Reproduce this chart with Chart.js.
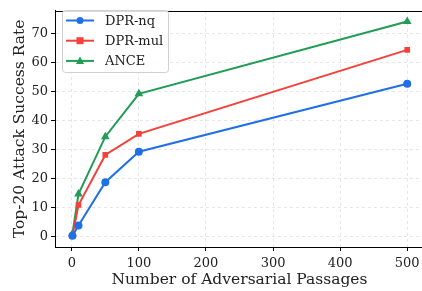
<!DOCTYPE html>
<html><head><meta charset="utf-8">
<script src="https://cdn.jsdelivr.net/npm/chart.js@4"></script>
<style>html,body{margin:0;padding:0;background:#fff;overflow:hidden}#wrap{width:429px;height:291px}</style>
</head><body><div id="wrap"><canvas id="c" width="429" height="291"></canvas></div>
<script>
const passages = [1, 10, 50, 100, 500];
const dprNq = [0.2, 3.7, 18.7, 29.2, 52.7];
const dprMul = [0.0, 10.8, 28.1, 35.4, 64.4];
const ance = [0.9, 14.6, 34.4, 49.2, 74.2];
const xTicks = [0, 100, 200, 300, 400, 500];
const yTicks = [0, 10, 20, 30, 40, 50, 60, 70];
const seriesNames = ['DPR-nq', 'DPR-mul', 'ANCE'];
const colors = ['#1f6fe8', '#f5413a', '#1f9d55'];
const styles = ['circle', 'rect', 'triangle'];
const FONT = "'DejaVu Serif', serif";

function toPts(vals){ return passages.map((x,i)=>({x:x, y:vals[i]})); }
const allVals = [dprNq, dprMul, ance];

const frame = {
  id:'frame',
  afterDraw(chart){
    const {ctx, chartArea:a} = chart;
    ctx.save();
    ctx.strokeStyle='#000'; ctx.lineWidth=1;
    ctx.strokeRect(Math.round(a.left)+0.5, Math.round(a.top)+0.5, Math.round(a.right-a.left), Math.round(a.bottom-a.top));
    // legend
    const lx=62.5, ly=10.5, lw=106, lh=62;
    ctx.fillStyle='rgba(255,255,255,0.85)';
    ctx.strokeStyle='#d0d0d0';
    ctx.beginPath(); ctx.roundRect(lx,ly,lw,lh,3); ctx.fill(); ctx.stroke();
    ctx.font = "13px "+FONT; ctx.textBaseline='middle'; ctx.textAlign='left';
    seriesNames.forEach((n,i)=>{
      const y = 20.5 + i*20.2;
      ctx.strokeStyle=colors[i]; ctx.lineWidth=2;
      ctx.beginPath(); ctx.moveTo(66,y); ctx.lineTo(94,y); ctx.stroke();
      ctx.fillStyle=colors[i];
      const cx=80;
      if(styles[i]==='circle'){ ctx.beginPath(); ctx.arc(cx,y,3.5,0,Math.PI*2); ctx.fill(); }
      else if(styles[i]==='rect'){ ctx.fillRect(cx-3.5,y-3.5,7,7); }
      else { ctx.beginPath(); ctx.moveTo(cx,y-4.5); ctx.lineTo(cx+4,y+3); ctx.lineTo(cx-4,y+3); ctx.closePath(); ctx.fill(); }
      ctx.fillStyle='#222';
      ctx.fillText(n, 105, y+1);
    });
    ctx.restore();
  }
};

new Chart(document.getElementById('c'), {
  type:'line',
  data:{ datasets: seriesNames.map((n,i)=>({
    label:n, data: toPts(allVals[i]), borderColor:colors[i], backgroundColor:colors[i],
    borderWidth:2, pointStyle:styles[i], pointRadius: styles[i]==='triangle'?5:4,
    pointBorderWidth:0, tension:0
  }))},
  options:{
    responsive:false, animation:false, devicePixelRatio:1,
    layout:{padding:{top:3,right:0,left:0,bottom:0}},
    plugins:{legend:{display:false}, tooltip:{enabled:false}},
    scales:{
      x:{ type:'linear', min:-25, max:525,
        afterBuildTicks(s){ s.ticks = xTicks.map(v=>({value:v})); },
        afterFit(s){ s.height = 44; },
        ticks:{ color:'#222', font:{family:FONT,size:13}, padding:5, maxRotation:0 },
        grid:{ color:'#e6e6e6', tickColor:'#000', tickLength:4, tickBorderDash:[] },
        border:{ display:true, color:'#000', width:1, dash:[3,3] },
        title:{ display:true, text:'Number of Adversarial Passages', color:'#222', font:{family:FONT,size:15.5}, padding:{top:0,bottom:2} }
      },
      y:{ type:'linear', min:-3.71, max:77.9,
        afterBuildTicks(s){ s.ticks = yTicks.map(v=>({value:v})); },
        afterFit(s){ s.width = 55; },
        ticks:{ color:'#222', font:{family:FONT,size:13}, padding:3 },
        grid:{ color:'#e6e6e6', tickColor:'#000', tickLength:4, tickBorderDash:[] },
        border:{ display:true, color:'#000', width:1, dash:[3,3] },
        title:{ display:true, text:'Top-20 Attack Success Rate', color:'#222', font:{family:FONT,size:15.5}, padding:{top:11,bottom:0} }
      }
    }
  },
  plugins:[frame]
});
</script></body></html>
